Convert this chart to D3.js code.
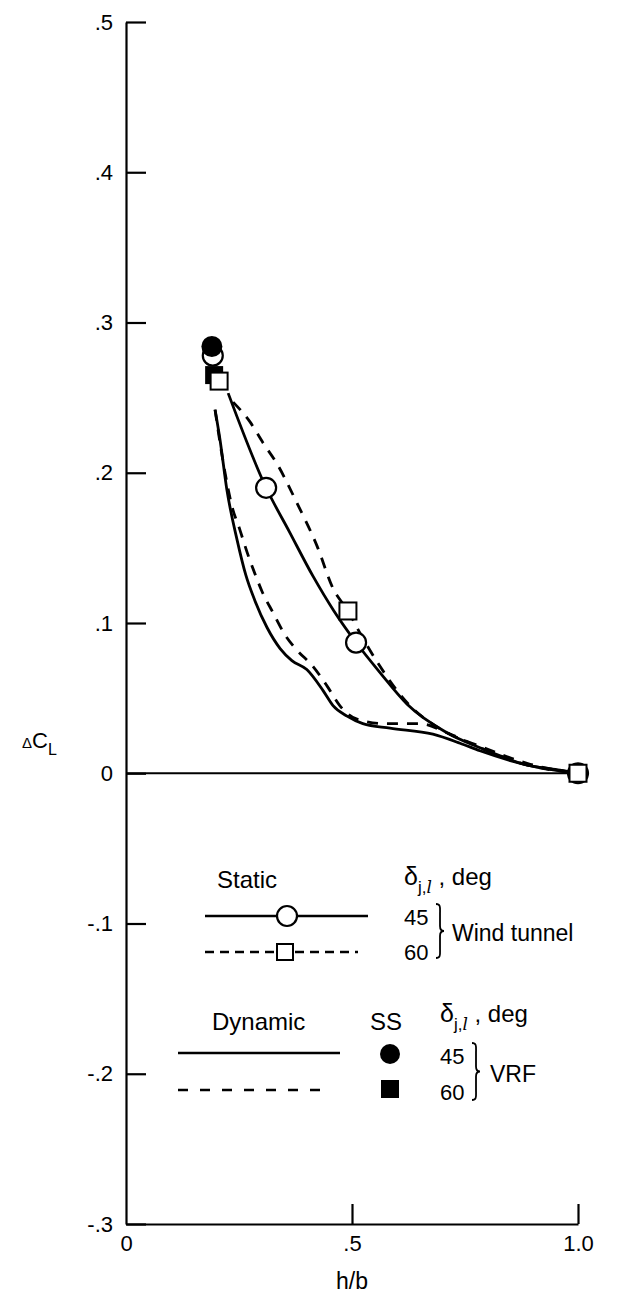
<!DOCTYPE html>
<html>
<head>
<meta charset="utf-8">
<script src="https://cdn.jsdelivr.net/npm/d3@7"></script>
<style>
  body { margin: 0; background: #fff; }
  text { font-family: "Liberation Sans", Arial, Helvetica, sans-serif; fill: #000; }
</style>
</head>
<body>
<script>
// Tick values and labels
const xTicks = [0, 0.5, 1.0];
const xTickLabels = ["0", ".5", "1.0"];
const yTicks = [0.5, 0.4, 0.3, 0.2, 0.1, 0, -0.1, -0.2, -0.3];
const yTickLabels = [".5", ".4", ".3", ".2", ".1", "0", "-.1", "-.2", "-.3"];

// Static (wind tunnel) faired curves
const staticH45  = [0.226, 0.310, 0.361, 0.414, 0.460, 0.509, 0.562, 0.622, 0.710, 0.783, 0.894, 0.960, 1.0];
const staticCL45 = [0.253, 0.190, 0.161, 0.131, 0.108, 0.087, 0.067, 0.046, 0.027, 0.017, 0.005, 0.002, 0.0];
const staticH60  = [0.237, 0.274, 0.303, 0.334, 0.378, 0.423, 0.458, 0.491, 0.522, 0.558, 0.622, 0.710, 0.783, 0.894, 1.0];
const staticCL60 = [0.247, 0.234, 0.220, 0.206, 0.180, 0.151, 0.123, 0.108, 0.091, 0.073, 0.047, 0.027, 0.018, 0.006, 0.0];

// Dynamic (VRF) curves
const dynH45  = [0.197, 0.208, 0.223, 0.246, 0.265, 0.285, 0.312, 0.341, 0.367, 0.400, 0.436, 0.458, 0.489, 0.524, 0.584, 0.679, 0.739, 0.783, 0.894, 1.0];
const dynCL45 = [0.242, 0.222, 0.189, 0.155, 0.132, 0.115, 0.097, 0.083, 0.075, 0.069, 0.055, 0.045, 0.038, 0.033, 0.030, 0.026, 0.020, 0.015, 0.005, 0.0];
const dynH60  = [0.197, 0.215, 0.235, 0.252, 0.268, 0.285, 0.301, 0.325, 0.352, 0.378, 0.414, 0.445, 0.473, 0.511, 0.573, 0.650, 0.710, 0.783, 0.894, 1.0];
const dynCL60 = [0.242, 0.207, 0.177, 0.162, 0.147, 0.133, 0.121, 0.107, 0.092, 0.082, 0.071, 0.058, 0.045, 0.036, 0.033, 0.033, 0.027, 0.017, 0.005, 0.0];

// Measured points
const wtCircleH  = [0.192, 0.310, 0.509, 1.0];   // wind tunnel, 45 deg
const wtCircleCL = [0.278, 0.190, 0.087, 0.0];
const wtSquareH  = [0.206, 0.491, 1.0];          // wind tunnel, 60 deg
const wtSquareCL = [0.261, 0.108, 0.0];
const ssCircleH  = [0.190];                      // VRF steady state, 45 deg
const ssCircleCL = [0.284];
const ssSquareH  = [0.195];                      // VRF steady state, 60 deg
const ssSquareCL = [0.265];

const width = 623, height = 1297;

const x = d3.scaleLinear([0, 1], [126, 578]);
const y = d3.scaleLinear([-0.3, 0.5], [1224, 22]);

const svg = d3.select("body").append("svg")
    .attr("width", width)
    .attr("height", height)
    .attr("viewBox", [0, 0, width, height]);

// Axes
const yAxis = svg.append("g")
    .attr("transform", `translate(${x(0)},0)`)
    .call(d3.axisLeft(y)
      .tickValues(yTicks)
      .tickSizeInner(-20)
      .tickSizeOuter(0)
      .tickPadding(13)
      .tickFormat((d, i) => yTickLabels[i]));

const xAxis = svg.append("g")
    .attr("transform", `translate(0,${y(-0.3)})`)
    .call(d3.axisBottom(x)
      .tickValues(xTicks)
      .tickSizeInner(-20)
      .tickSizeOuter(0)
      .tickPadding(11)
      .tickFormat((d, i) => xTickLabels[i]));

xAxis.select(".tick line").remove(); // corner tick at 0 coincides with y axis
[yAxis, xAxis].forEach(g => {
  g.selectAll("path, line").attr("stroke", "#000").attr("stroke-width", 2.2);
  g.selectAll("text").attr("font-size", 22).attr("font-family", null).attr("fill", "#000");
});

// Zero line
svg.append("line")
    .attr("x1", x(0)).attr("x2", x(1))
    .attr("y1", y(0)).attr("y2", y(0))
    .attr("stroke", "#000").attr("stroke-width", 2);

// Axis titles
svg.append("text")
    .attr("x", x(0.5)).attr("y", 1289)
    .attr("text-anchor", "middle")
    .attr("font-size", 23)
    .text("h/b");

const yTitle = svg.append("text").attr("x", 22).attr("y", 748).attr("font-size", 22).attr("fill", "#000");
yTitle.append("tspan").attr("font-size", 15).text("Δ");
yTitle.append("tspan").text("C");
yTitle.append("tspan").attr("font-size", 16).attr("dy", 7).text("L");

// Curves
const line = d3.line().curve(d3.curveMonotoneX);
const zip = (hs, cs) => hs.map((h, i) => [x(h), y(cs[i])]);

const curves = [
  {h: dynH45, c: dynCL45, dash: null},
  {h: dynH60, c: dynCL60, dash: "11,9"},
  {h: staticH45, c: staticCL45, dash: null},
  {h: staticH60, c: staticCL60, dash: "11,9"}
];

svg.append("g")
    .attr("fill", "none")
    .attr("stroke", "#000")
    .attr("stroke-width", 2.8)
  .selectAll("path")
  .data(curves)
  .join("path")
    .attr("d", d => line(zip(d.h, d.c)))
    .attr("stroke-dasharray", d => d.dash);

// Markers
const circleR = 10, squareS = 17;

svg.append("g").selectAll("circle")
  .data(zip(wtCircleH, wtCircleCL))
  .join("circle")
    .attr("cx", d => d[0]).attr("cy", d => d[1]).attr("r", circleR)
    .attr("fill", "#fff").attr("stroke", "#000").attr("stroke-width", 2.2);

svg.append("g").selectAll("circle")
  .data(zip(ssCircleH, ssCircleCL))
  .join("circle")
    .attr("cx", d => d[0]).attr("cy", d => d[1]).attr("r", circleR + 0.5)
    .attr("fill", "#000");

svg.append("g").selectAll("rect")
  .data(zip(ssSquareH, ssSquareCL))
  .join("rect")
    .attr("x", d => d[0] - 9).attr("y", d => d[1] - 9)
    .attr("width", 18).attr("height", 18)
    .attr("fill", "#000");

svg.append("g").selectAll("rect")
  .data(zip(wtSquareH, wtSquareCL))
  .join("rect")
    .attr("x", d => d[0] - squareS / 2).attr("y", d => d[1] - squareS / 2)
    .attr("width", squareS).attr("height", squareS)
    .attr("fill", "#fff").attr("stroke", "#000").attr("stroke-width", 2);

// Legend
const fs = 24, fsNum = 22;
const lg = svg.append("g");

function deltaLabel(g, lx, ly) {
  const t = g.append("text").attr("x", lx).attr("y", ly).attr("font-size", fs);
  t.append("tspan").attr("font-size", 25).text("δ");
  t.append("tspan").attr("font-size", 17).attr("dy", 8).text("j,");
  t.append("tspan").attr("font-size", 17).attr("font-style", "italic").attr("font-family", "'DejaVu Serif', serif").text("l");
  t.append("tspan").attr("dy", -8).text(" , deg");
}

function brace(g, bx, y0, y1) {
  const m = (y0 + y1) / 2;
  g.append("path")
    .attr("d", `M${bx},${y0} C${bx + 5},${y0} ${bx + 4},${y0 + 4} ${bx + 4},${y0 + 10} L${bx + 4},${m - 5} C${bx + 4},${m - 1} ${bx + 6},${m} ${bx + 8},${m} C${bx + 6},${m} ${bx + 4},${m + 1} ${bx + 4},${m + 5} L${bx + 4},${y1 - 10} C${bx + 4},${y1 - 4} ${bx + 5},${y1} ${bx},${y1}`)
    .attr("fill", "none").attr("stroke", "#000").attr("stroke-width", 1.8);
}

// Static block
lg.append("text").attr("x", 247).attr("y", 888).attr("text-anchor", "middle").attr("font-size", fs).text("Static");
deltaLabel(lg, 404, 885);
lg.append("line").attr("x1", 205).attr("x2", 368).attr("y1", 916).attr("y2", 916)
  .attr("stroke", "#000").attr("stroke-width", 2.4);
lg.append("circle").attr("cx", 287).attr("cy", 916).attr("r", circleR)
  .attr("fill", "#fff").attr("stroke", "#000").attr("stroke-width", 2.2);
lg.append("line").attr("x1", 205).attr("x2", 358).attr("y1", 952).attr("y2", 952)
  .attr("stroke", "#000").attr("stroke-width", 2.4).attr("stroke-dasharray", "9,6");
lg.append("rect").attr("x", 285 - 8).attr("y", 952 - 8).attr("width", 16).attr("height", 16)
  .attr("fill", "#fff").attr("stroke", "#000").attr("stroke-width", 2);
lg.append("text").attr("x", 404).attr("y", 925).attr("font-size", fsNum).text("45");
lg.append("text").attr("x", 404).attr("y", 960).attr("font-size", fsNum).text("60");
brace(lg, 436, 904, 958);
lg.append("text").attr("x", 452).attr("y", 941).attr("font-size", 23).text("Wind tunnel");

// Dynamic block
lg.append("text").attr("x", 212).attr("y", 1030).attr("font-size", fs).text("Dynamic");
lg.append("text").attr("x", 370).attr("y", 1030).attr("font-size", fs).text("SS");
deltaLabel(lg, 440, 1022);
lg.append("line").attr("x1", 178).attr("x2", 340).attr("y1", 1053).attr("y2", 1053)
  .attr("stroke", "#000").attr("stroke-width", 2.4);
lg.append("line").attr("x1", 178).attr("x2", 332).attr("y1", 1090).attr("y2", 1090)
  .attr("stroke", "#000").attr("stroke-width", 2.4).attr("stroke-dasharray", "10,12");
lg.append("circle").attr("cx", 390).attr("cy", 1054).attr("r", circleR).attr("fill", "#000");
lg.append("rect").attr("x", 390 - 9).attr("y", 1089 - 9).attr("width", 18).attr("height", 18).attr("fill", "#000");
lg.append("text").attr("x", 440).attr("y", 1064).attr("font-size", fsNum).text("45");
lg.append("text").attr("x", 440).attr("y", 1100).attr("font-size", fsNum).text("60");
brace(lg, 472, 1043, 1100);
lg.append("text").attr("x", 490).attr("y", 1082).attr("font-size", 23).text("VRF");
</script>
</body>
</html>
